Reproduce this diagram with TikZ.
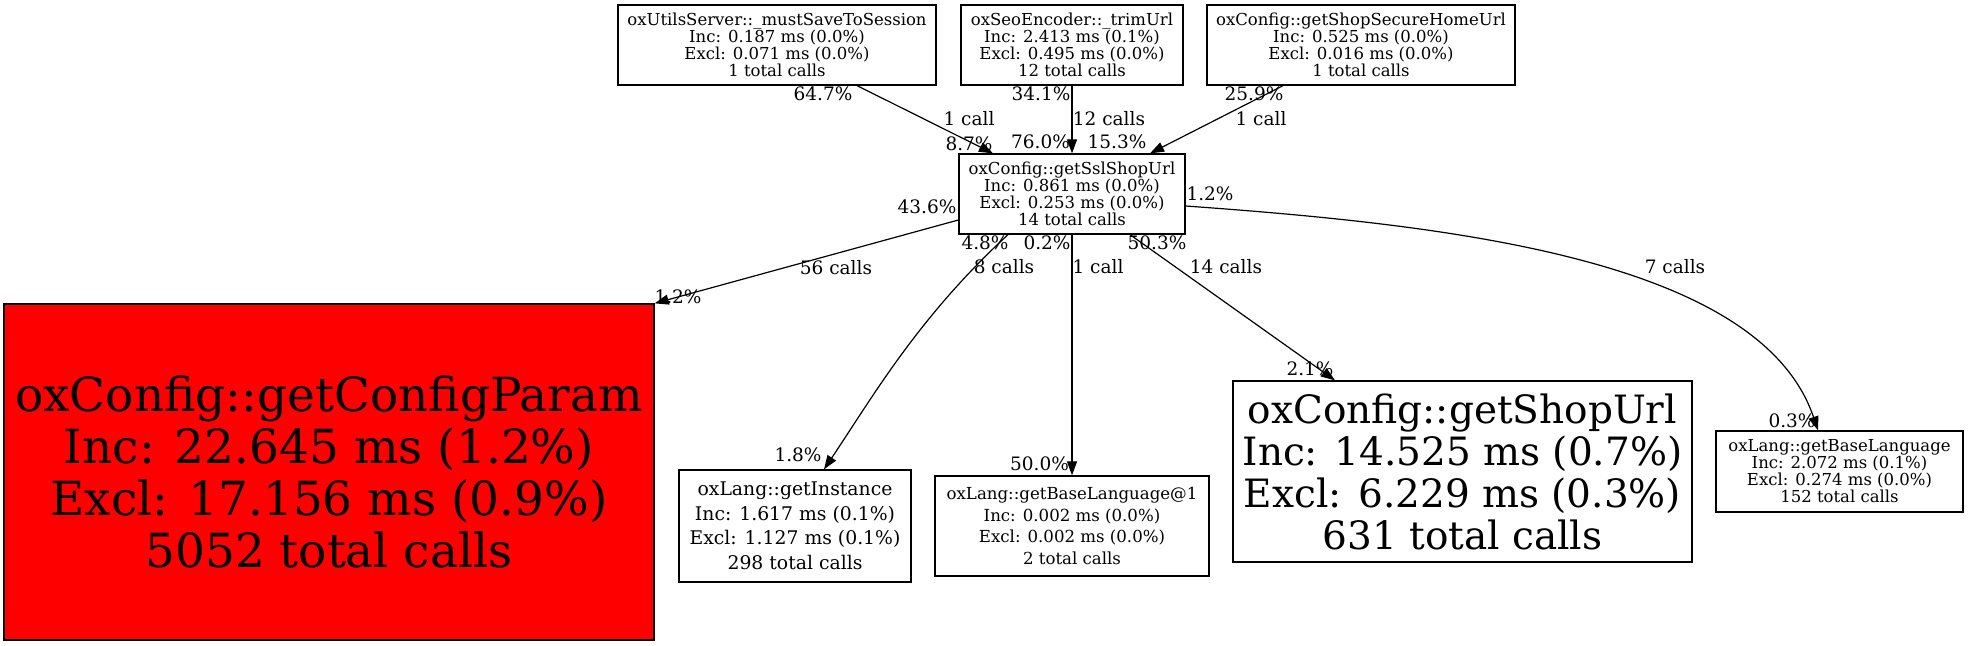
\documentclass[tikz,border=0pt]{standalone}
\usepackage{fontspec}
\setmainfont{DejaVu Serif}
\usetikzlibrary{arrows.meta}
\begin{document}
\begin{tikzpicture}[x=1pt,y=-1pt,
  box/.style={draw=black, line width=1.3pt, inner sep=0pt, align=center, rectangle},
  sm/.style={font=\fontsize{16.5}{17}\selectfont},
  lbl/.style={anchor=base, inner sep=0pt, font=\fontsize{18.5}{20}\selectfont},
  edge/.style={draw=black, line width=1.2pt, -{Triangle[length=14pt,width=10pt]}}]
\useasboundingbox (0,0) rectangle (1969,645);
\fill[white] (0,0) rectangle (1969,645);
% nodes
\node[box, sm, minimum width=318pt, minimum height=80pt] (A) at (777,45)
  {oxUtilsServer::\_mustSaveToSession\\Inc: 0.187 ms (0.0\%)\\Excl: 0.071 ms (0.0\%)\\1 total calls};
\node[box, sm, minimum width=222pt, minimum height=80pt] (B) at (1072,45)
  {oxSeoEncoder::\_trimUrl\\Inc: 2.413 ms (0.1\%)\\Excl: 0.495 ms (0.0\%)\\12 total calls};
\node[box, sm, minimum width=308pt, minimum height=80pt] (C) at (1361,45)
  {oxConfig::getShopSecureHomeUrl\\Inc: 0.525 ms (0.0\%)\\Excl: 0.016 ms (0.0\%)\\1 total calls};
\node[box, sm, minimum width=226pt, minimum height=80pt] (S) at (1072,194)
  {oxConfig::getSslShopUrl\\Inc: 0.861 ms (0.0\%)\\Excl: 0.253 ms (0.0\%)\\14 total calls};
\node[box, fill=red, font=\fontsize{47}{52}\selectfont, minimum width=650pt, minimum height=336pt] (R) at (329,472)
  {oxConfig::getConfigParam\\Inc: 22.645 ms (1.2\%)\\Excl: 17.156 ms (0.9\%)\\5052 total calls};
\node[box, font=\fontsize{18.8}{24.5}\selectfont, minimum width=232pt, minimum height=112pt] (I) at (795,526)
  {oxLang::getInstance\\Inc: 1.617 ms (0.1\%)\\Excl: 1.127 ms (0.1\%)\\298 total calls};
\node[box, font=\fontsize{16.6}{21.7}\selectfont, minimum width=274pt, minimum height=100pt] (L1) at (1072,526)
  {oxLang::getBaseLanguage@1\\Inc: 0.002 ms (0.0\%)\\Excl: 0.002 ms (0.0\%)\\2 total calls};
\node[box, font=\fontsize{39}{42}\selectfont, minimum width=459pt, minimum height=181pt] (U) at (1462.5,471.5)
  {oxConfig::getShopUrl\\Inc: 14.525 ms (0.7\%)\\Excl: 6.229 ms (0.3\%)\\631 total calls};
\node[box, sm, minimum width=247pt, minimum height=81pt] (L) at (1839.5,471.5)
  {oxLang::getBaseLanguage\\Inc: 2.072 ms (0.1\%)\\Excl: 0.274 ms (0.0\%)\\152 total calls};
% edges
\draw[edge] ([xshift=80pt]A.south) -- ([xshift=-79pt]S.north);
\draw[edge] (B.south) -- (S.north);
\draw[edge] ([xshift=-78pt]C.south) -- ([xshift=78pt]S.north);
\draw[edge] ([yshift=-26pt]S.west) -- (R.north east);
\draw[edge] ([xshift=-64pt]S.south) .. controls +(-90,83) and +(49,-73) .. ([xshift=29pt]I.north);
\draw[edge] (S.south) -- (L1.north);
\draw[edge] ([xshift=58pt]S.south) -- ([xshift=-127.5pt]U.north);
\draw[edge] ([yshift=-12pt]S.east) .. controls +(265,19) and +(-58,-171) .. ([xshift=-21.5pt]L.north);
% edge labels
\node[lbl] (lA1) at (823,100) {64.7\%};
\node[lbl] (lA2) at (969,125) {1 call};
\node[lbl] (lA3) at (969,150) {8.7\%};
\node[lbl] (lB1) at (1041,100) {34.1\%};
\node[lbl] (lB2) at (1109,125) {12 calls};
\node[lbl] (lB3) at (1040.5,148) {76.0\%};
\node[lbl] (lC3) at (1117,148) {15.3\%};
\node[lbl] (lC1) at (1254,100) {25.9\%};
\node[lbl] (lC2) at (1261,125) {1 call};
\node[lbl] (lR1) at (927,213) {43.6\%};
\node[lbl] (lR2) at (836,274) {56 calls};
\node[lbl] (lR3) at (678,303) {1.2\%};
\node[lbl] (lI1) at (985,249) {4.8\%};
\node[lbl] (lI2) at (1004,273) {8 calls};
\node[lbl] (lI3) at (798,461) {1.8\%};
\node[lbl] (lM1) at (1047,249) {0.2\%};
\node[lbl] (lM2) at (1098,273) {1 call};
\node[lbl] (lM3) at (1039.5,470) {50.0\%};
\node[lbl] (lU1) at (1157,249) {50.3\%};
\node[lbl] (lU2) at (1226,273) {14 calls};
\node[lbl] (lU3) at (1310,375) {2.1\%};
\node[lbl] (lL1) at (1210,200) {1.2\%};
\node[lbl] (lL2) at (1675,273) {7 calls};
\node[lbl] (lL3) at (1792,427) {0.3\%};
\end{tikzpicture}
\end{document}
